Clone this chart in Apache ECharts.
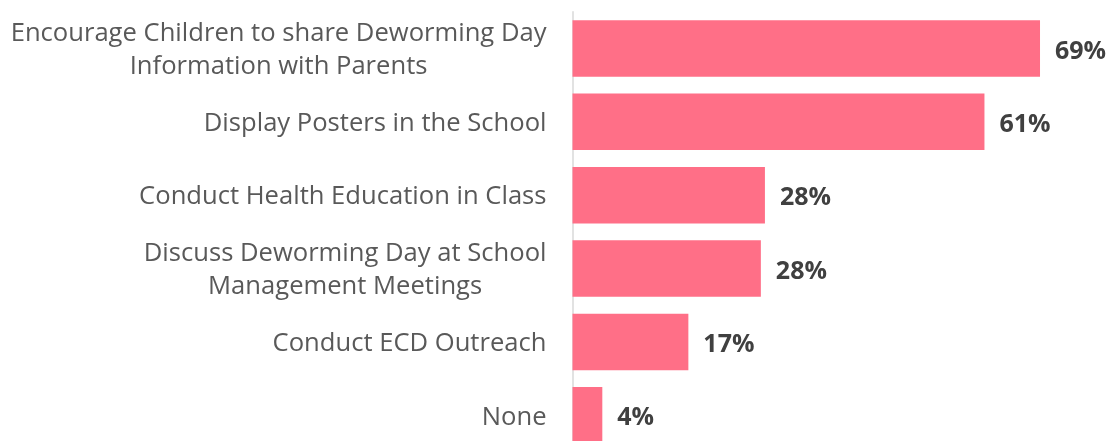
<!DOCTYPE html>
<html>
<head>
<meta charset="utf-8">
<script src="https://cdn.jsdelivr.net/npm/echarts@6/dist/echarts.min.js"></script>
<style>
html,body{margin:0;padding:0;background:#fff;overflow:hidden;}
#chart{width:1108px;height:452px;}
</style>
</head>
<body>
<div id="chart"></div>
<script>
const categories = [
  "Encourage Children to share Deworming Day\nInformation with Parents",
  "Display Posters in the School",
  "Conduct Health Education in Class",
  "Discuss Deworming Day at School\nManagement Meetings",
  "Conduct ECD Outreach",
  "None"
];
const values = [69.0, 60.8, 28.4, 27.8, 17.1, 4.4];

const chart = echarts.init(document.getElementById('chart'), null, {renderer: 'canvas'});
chart.setOption({
  animation: false,
  backgroundColor: '#ffffff',
  grid: {left: 572.5, right: 7, top: 11.7, bottom: 0, containLabel: false},
  xAxis: {
    type: 'value', min: 0, max: 78,
    show: false,
    splitLine: {show: false}
  },
  yAxis: {
    type: 'category',
    inverse: true,
    data: categories,
    axisLine: {show: true, lineStyle: {color: '#d9d9d9', width: 1.5}},
    axisTick: {show: false},
    axisLabel: {
      margin: 26,
      padding: [4, 0, 0, 0],
      formatter: function (v) {
        return v.split('\n').map(function (l) { return '{c|' + l + '}'; }).join('\n');
      },
      rich: {
        c: {align: 'center', fontFamily: 'Open Sans', fontSize: 25.6, color: '#595959', lineHeight: 33}
      }
    }
  },
  series: [{
    type: 'bar',
    data: values,
    barCategoryGap: '23%',
    itemStyle: {color: '#FF6F87'},
    label: {
      show: true, position: 'right', distance: 15, offset: [0, 3],
      formatter: function (p) { return Math.round(p.value) + '%'; },
      fontFamily: 'Open Sans', fontWeight: 'bold', fontSize: 25, color: '#404040'
    }
  }]
});
</script>
</body>
</html>
